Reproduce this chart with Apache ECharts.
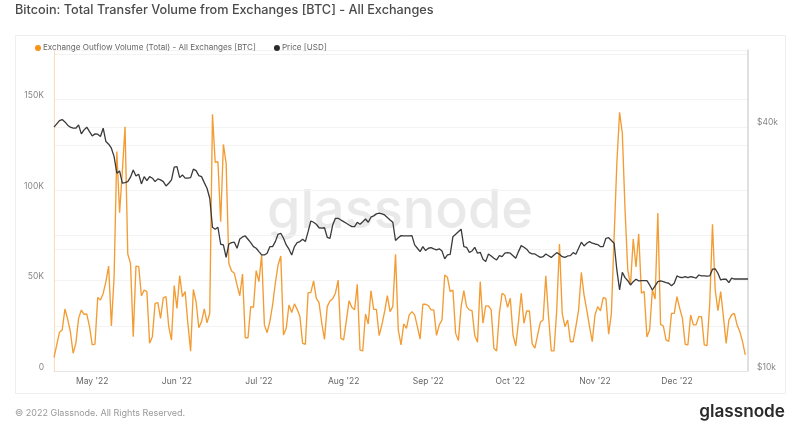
<!DOCTYPE html>
<html>
<head>
<meta charset="utf-8">
<style>html,body{margin:0;padding:0;background:#fff}#c{width:792px;height:433px}</style>
<script src="https://cdn.jsdelivr.net/npm/echarts@6/dist/echarts.min.js"></script>
</head>
<body>
<div id="c"></div>
<script>
const titleText = "Bitcoin: Total Transfer Volume from Exchanges [BTC] - All Exchanges";
const outflowName = "Exchange Outflow Volume (Total) - All Exchanges [BTC]";
const priceName = "Price [USD]";
const firstDay = "2022-04-17";
const monthTicks = {"2022-05-01":"May '22","2022-06-01":"Jun '22","2022-07-01":"Jul '22","2022-08-01":"Aug '22","2022-09-01":"Sep '22","2022-10-01":"Oct '22","2022-11-01":"Nov '22","2022-12-01":"Dec '22"};
const outflow = [7500,14400,21400,22700,34300,28700,21700,9800,15300,29100,33700,31300,31500,24500,14400,14900,40700,39200,42900,49400,
58000,24900,52200,121300,87500,110000,135000,64700,59500,19000,58000,57700,41500,44800,43900,15300,19000,37400,37800,29100,
40500,41100,24500,17100,47200,34600,52700,41100,43900,26300,11000,45100,38300,24000,27300,34300,26700,31900,142000,115400,
115700,82600,125300,114800,59500,55300,54000,47500,41600,53600,18400,18400,35600,35200,55500,49400,64200,25500,21200,27300,
36500,48500,58600,63600,19900,23600,36500,32300,37100,34100,30100,15300,14800,43300,43300,49800,40200,37800,26400,17500,
35600,38700,40000,43000,50300,18000,17200,27900,38900,35200,33800,47900,11600,11100,31500,26000,44400,34100,34100,19600,
25500,32800,41700,32800,35600,64500,22700,14400,26000,23600,31000,32800,31000,24500,17700,36900,36900,36100,33800,33800,
19700,25500,28200,53100,51800,43900,44800,20800,16800,35600,44400,35600,33800,33400,19600,15900,49400,26400,36000,36000,
33800,12600,11100,31900,43000,41900,35200,40200,19900,13800,27300,43000,26400,33200,33200,15000,12600,19900,26900,28200,
52600,30100,11100,11100,33700,70200,31900,24500,28200,16200,16200,24500,33700,54500,42000,33700,24500,16200,31000,35600,
33200,40500,40200,20400,31900,74000,115000,143000,131600,89000,55800,47600,73000,57500,75800,43000,44000,18800,22700,44800,
39800,87400,25800,24900,17200,16300,31900,31900,41100,34700,29100,14800,14400,31000,25500,25500,30100,30100,14400,14000,
37400,81100,44800,33400,43900,30100,15300,28200,31000,31900,25500,21800,16300,8900];
const price = [39930,40690,41460,41700,41150,40390,39930,39700,39700,40460,38440,39320,39930,38950,38000,38440,38380,37860,39700,36800,
36260,35440,33790,30750,31150,29050,29150,29310,30060,31330,30280,30570,28930,30160,29480,30160,29890,29310,29770,29600,
29310,28600,29050,29600,31820,31920,29990,30450,29890,29890,29990,31460,31200,30330,30160,29150,28230,26670,22620,22370,
22620,20540,20460,19060,20570,20730,20780,20080,21160,21410,21530,21130,20730,20260,20080,19700,19330,19330,19520,20260,
20260,20850,21740,21860,21250,20460,19970,19330,20260,20730,20850,21130,20850,22060,23440,23270,23010,22560,22500,22560,
21370,21250,22910,23800,23800,23580,23350,23140,22910,22710,22710,23270,23010,23350,23710,23270,23950,24130,24410,24500,
24410,24260,23900,23580,23270,20980,21320,21570,21530,21530,21530,21570,20460,20080,19700,20260,19820,20080,20150,20010,
19890,20010,19770,18900,19330,19400,21440,21740,22060,22370,20260,20190,19620,19770,20190,19520,19620,18860,18610,19440,
19220,18970,18790,19250,19140,19520,19580,19520,19250,18970,19700,20380,20190,19970,19580,19440,19440,19250,19060,19140,
19440,19250,19060,19330,19580,19400,19140,19060,19220,19250,19580,19400,20080,20780,20340,20660,20850,20660,20570,20500,
20260,20260,21250,21320,20980,20660,17750,15840,17520,16990,16700,16300,16610,16840,16680,16700,16700,16700,16300,15840,
16210,16610,16680,16610,16520,16460,16230,16460,17160,17030,16990,17090,16990,17090,17030,16940,17250,17160,17160,17130,
17160,17830,17850,17420,16770,16840,16840,16520,16940,16860,16860,16860,16860,16860,16860];
const priceGridTicks = [10000,20000,40000];
const priceLabelTicks = [10000,40000];

const days = [];
{
  const t0 = Date.parse(firstDay + "T00:00:00Z");
  for (let i = 0; i < price.length; i++) days.push(new Date(t0 + i * 864e5).toISOString().slice(0, 10));
}
const font = "Inter, 'Noto Sans', sans-serif";
const chart = echarts.init(document.getElementById('c'), null, {renderer: 'canvas'});
chart.setOption({
  animation: false,
  backgroundColor: '#fff',
  textStyle: {fontFamily: font},
  title: {text: titleText, left: 10, top: -1, textStyle: {fontFamily: font, fontSize: 12.7, fontWeight: 500, color: '#4a4a4a'}},
  legend: {
    left: 35, top: 44, itemWidth: 6, itemHeight: 6, itemGap: 18, icon: 'circle',
    padding: 0,
    textStyle: {fontFamily: font, fontSize: 8.1, color: '#666', padding: [0, 0, 0, -3]},
    data: [outflowName, priceName]
  },
  grid: {left: 54, right: 44, top: 50, bottom: 62, containLabel: false},
  xAxis: {
    type: 'category', data: days, boundaryGap: false,
    axisLine: {show: true, lineStyle: {color: '#e6e6e6'}},
    axisTick: {show: false},
    splitLine: {show: false},
    axisLabel: {
      interval: (i, v) => v in monthTicks,
      formatter: v => monthTicks[v] || '',
      color: '#666', fontSize: 8.5, margin: 6, hideOverlap: false
    }
  },
  yAxis: [{
    type: 'value', position: 'left', min: 0, max: 177500, interval: 25000,
    axisLine: {show: true, lineStyle: {color: '#fcdcb8', width: 1}},
    axisTick: {show: false},
    splitLine: {show: true, lineStyle: {color: '#f3f3f3', width: 1}},
    axisLabel: {
      color: '#888', fontSize: 8.5, lineHeight: 8, margin: 10, verticalAlign: 'bottom', showMaxLabel: false,
      formatter: v => v === 0 ? '0' : (v % 50000 === 0 ? (v / 1000) + 'K' : '')
    }
  }, {
    type: 'log', logBase: 2, position: 'right', min: 10000, max: 61900,
    axisLine: {show: true, lineStyle: {color: '#d6d6d6', width: 1.5}},
    axisTick: {show: false, customValues: priceGridTicks},
    splitLine: {show: true, lineStyle: {color: '#f3f3f3', width: 1}},
    axisLabel: {
      color: '#888', fontSize: 8.5, lineHeight: 8, margin: 9, verticalAlign: 'bottom',
      customValues: priceLabelTicks,
      formatter: v => '$' + Math.round(v / 1000) + 'k'
    }
  }],
  series: [{
    name: outflowName, type: 'line', yAxisIndex: 0, data: outflow, showSymbol: false, smooth: false,
    itemStyle: {color: '#f7931a'}, lineStyle: {color: '#f39c33', width: 1.35}, z: 3
  }, {
    name: priceName, type: 'line', yAxisIndex: 1, data: price, showSymbol: false, smooth: false,
    itemStyle: {color: '#2b2b2b'}, lineStyle: {color: '#3a3a3a', width: 1.3}, z: 4
  }],
  graphic: [
    {type: 'rect', z: -1, shape: {x: 15.5, y: 35.5, width: 770, height: 358}, style: {fill: 'none', stroke: '#eeeeee', lineWidth: 1}},
    {type: 'text', z: 0, x: 400, y: 212, style: {text: 'glassnode', font: "500 54px Inter, 'Noto Sans', sans-serif", fill: '#e9e9e9', textAlign: 'center', textVerticalAlign: 'middle'}},
    {type: 'text', z: 5, x: 15, y: 413, style: {text: '© 2022 Glassnode. All Rights Reserved.', font: "9px Inter, 'Noto Sans', sans-serif", fill: '#999', textAlign: 'left', textVerticalAlign: 'middle'}},
    {type: 'text', z: 5, x: 785, y: 412, style: {text: 'glassnode', font: "600 17.2px Inter, 'Noto Sans', sans-serif", fill: '#2a2a2a', textAlign: 'right', textVerticalAlign: 'middle'}}
  ]
});
</script>
</body>
</html>
